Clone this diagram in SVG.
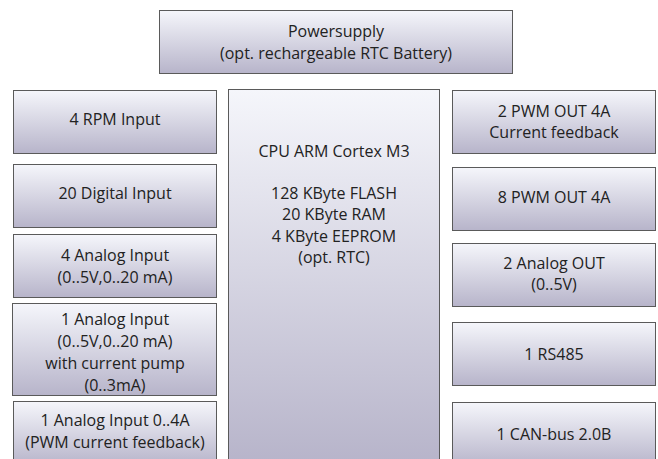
<svg xmlns="http://www.w3.org/2000/svg" width="658" height="459" viewBox="0 0 658 459">
<defs>
<linearGradient id="g" x1="0" y1="0" x2="0" y2="1">
<stop offset="0" stop-color="#f5f6fb"/>
<stop offset="1" stop-color="#b7b4ca"/>
</linearGradient>
<style>
.box{fill:url(#g);stroke:#5a5a5a;stroke-width:1}
text{font-family:"Open Sans","Liberation Sans",sans-serif;font-size:16px;fill:#222;text-anchor:middle}
</style>
</defs>
<rect width="658" height="459" fill="#ffffff"/>
<g id="power"><rect class="box" x="159.5" y="10.5" width="353" height="63"/>
<text x="336" y="36.5">Powersupply</text><text x="336" y="58.5">(opt. rechargeable RTC Battery)</text></g>
<g id="rpm"><rect class="box" x="13.5" y="90.5" width="203" height="63"/><text x="115" y="124.5">4 RPM Input</text></g>
<g id="digital"><rect class="box" x="13.5" y="164.5" width="203" height="63"/><text x="115" y="198.5">20 Digital Input</text></g>
<g id="analog4"><rect class="box" x="13.5" y="234.5" width="203" height="63"/><text x="115" y="260.5">4 Analog Input</text><text x="115" y="282.5">(0..5V,0..20 mA)</text></g>
<g id="analog1"><rect class="box" x="12.5" y="303.5" width="204" height="92"/><text x="115" y="324.5">1 Analog Input</text><text x="115" y="346.5">(0..5V,0..20 mA)</text><text x="115" y="368.5">with current pump</text><text x="115" y="390.5">(0..3mA)</text></g>
<g id="analog04"><rect class="box" x="13.5" y="401.5" width="203" height="64"/><text x="115" y="425.5">1 Analog Input 0..4A</text><text x="115" y="447.5">(PWM current feedback)</text></g>
<g id="cpu"><rect class="box" x="228.5" y="89.5" width="211" height="373"/>
<text x="334" y="156.5">CPU ARM Cortex M3</text><text x="334" y="198.5">128 KByte FLASH</text><text x="334" y="220">20 KByte RAM</text><text x="334" y="241.5">4 KByte EEPROM</text><text x="334" y="263">(opt. RTC)</text></g>
<g id="pwm2"><rect class="box" x="452.5" y="90.5" width="203" height="63"/><text x="554" y="116.5">2 PWM OUT 4A</text><text x="554" y="137.5">Current feedback</text></g>
<g id="pwm8"><rect class="box" x="452.5" y="167.5" width="203" height="63"/><text x="554" y="203">8 PWM OUT 4A</text></g>
<g id="aout"><rect class="box" x="452.5" y="243.5" width="203" height="63"/><text x="554" y="268.5">2 Analog OUT</text><text x="554" y="290">(0..5V)</text></g>
<g id="rs485"><rect class="box" x="452.5" y="322.5" width="203" height="63"/><text x="554" y="360">1 RS485</text></g>
<g id="can"><rect class="box" x="452.5" y="402.5" width="203" height="64"/><text x="554" y="440">1 CAN-bus 2.0B</text></g>
<g id="connectors"></g>
</svg>
